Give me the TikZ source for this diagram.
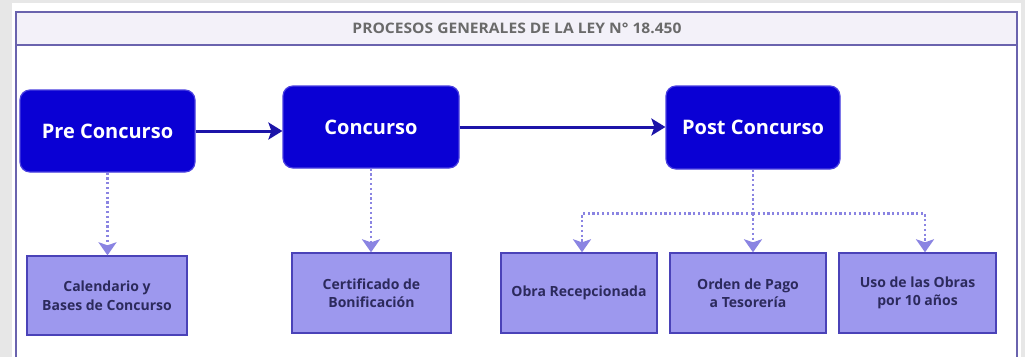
\documentclass[tikz,border=0pt]{standalone}
\usepackage{fontspec}
\setmainfont{Open Sans}
\usetikzlibrary{arrows.meta,calc}
\definecolor{bggray}{HTML}{E7E7E7}
\definecolor{framec}{HTML}{6A63AE}
\definecolor{headfill}{HTML}{F3F1F9}
\definecolor{headtext}{HTML}{6A6A6A}
\definecolor{mainfill}{HTML}{0A00D4}
\definecolor{mainedge}{HTML}{4A40E0}
\definecolor{subfill}{HTML}{9D98EE}
\definecolor{subedge}{HTML}{4A42B8}
\definecolor{subtext}{HTML}{2C2A5C}
\definecolor{solidarr}{HTML}{1C14A8}
\definecolor{dotarr}{HTML}{8A84E2}
\tikzset{
  mainbox/.style={draw=mainedge, line width=1.2pt, fill=mainfill, rounded corners=10pt,
    text=white, font=\bfseries\fontsize{20}{24}\selectfont, align=center, inner sep=0pt},
  subbox/.style={draw=subedge, line width=1.4pt, fill=subfill, text=subtext,
    font=\bfseries\fontsize{14}{18.5}\selectfont, align=center, inner sep=0pt},
  flowarrow/.style={draw=solidarr, line width=3pt, -{Stealth[length=14pt,width=17pt,inset=3pt]}},
  dotline/.style={draw=dotarr, line width=2.6pt, dash pattern=on 2.2pt off 2.6pt},
  dotarrow/.style={dotline, -{Stealth[length=13pt,width=18pt,inset=3pt]}},
  headlabel/.style={text=headtext, inner sep=0pt}
}
\begin{document}
\begin{tikzpicture}[x=1pt,y=-1pt]
\useasboundingbox (0,0) rectangle (1025,357);
\fill[bggray] (0,0) rectangle (1025,357);
\fill[white] (12,3) rectangle (1021,357);
% frame
\draw[framec, line width=2pt] (16,357) -- (16,12) -- (1017,12) -- (1017,357);
\filldraw[fill=headfill, draw=framec, line width=2pt] (16,12) rectangle (1017,45);
\node[headlabel] (title) at (517,28.5) {\resizebox{329pt}{10.5pt}{\bfseries\fontsize{13}{15}\selectfont PROCESOS GENERALES DE LA LEY N° 18.450}};
% main nodes
\node[mainbox, minimum width=175pt, minimum height=82pt] (pre) at (107.5,131) {Pre Concurso};
\node[mainbox, minimum width=176pt, minimum height=82pt] (con) at (371,127) {Concurso};
\node[mainbox, minimum width=174pt, minimum height=83pt] (post) at (753,127.5) {Post Concurso};
% sub nodes
\node[subbox, minimum width=160pt, minimum height=79pt] (cal) at (107,295.5) {Calendario y\\Bases de Concurso};
\node[subbox, minimum width=159pt, minimum height=80pt] (cert) at (371.5,293) {Certificado de\\Bonificación};
\node[subbox, minimum width=156pt, minimum height=80pt] (obra) at (579,293) {Obra Recepcionada};
\node[subbox, minimum width=156pt, minimum height=80pt] (orden) at (748,293) {Orden de Pago\\a Tesorería};
\node[subbox, minimum width=157pt, minimum height=80pt] (uso) at (917.5,293) {Uso de las Obras\\por 10 años};
% solid arrows
\draw[flowarrow] (pre.east) -- (con.west |- pre.east);
\draw[flowarrow] (con.east) -- (post.west |- con.east);
% dotted arrows
\draw[dotarrow] (pre.south) -- (cal.north -| pre.south);
\draw[dotarrow] (con.south) -- (cert.north -| con.south);
\coordinate (split) at ($(post.south)+(0,44)$);
\coordinate (obraTop) at ($(obra.north)+(3,0)$);
\coordinate (ordenTop) at ($(orden.north)+(5,0)$);
\coordinate (usoTop) at ($(uso.north)+(7.5,0)$);
\draw[dotline] (post.south) -- (split);
\draw[dotarrow] (split) -| (obraTop);
\draw[dotarrow] (split) -| (usoTop);
\draw[dotarrow] (split) -- (ordenTop |- split) -- (ordenTop);
\end{tikzpicture}
\end{document}
